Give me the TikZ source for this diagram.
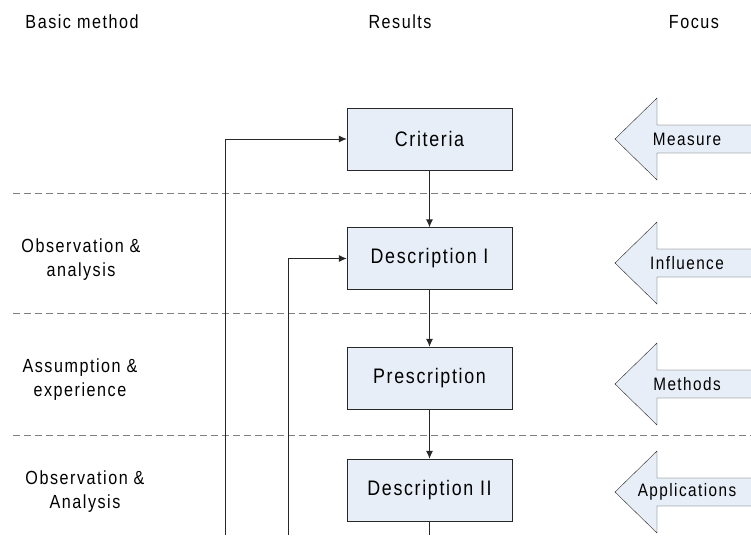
\documentclass[tikz,border=0pt]{standalone}
\usepackage{fontspec}
\setmainfont{Liberation Sans}[FakeStretch=0.85, LetterSpace=8]
\usepackage{tikz}
\usetikzlibrary{arrows.meta}
\definecolor{boxblue}{RGB}{231,238,247}
\definecolor{linegray}{RGB}{40,40,40}
\definecolor{dashgray}{RGB}{128,128,128}
% block arrow pointing left, its tail runs off the page
\NewDocumentCommand{\focusarrow}{m m m}{%
\draw[fat] (761,#2-14) -- (657,#2-14) -- (657,#2-41) -- (615,#2) -- (657,#2+41) -- (657,#2+14) -- (761,#2+14) -- cycle;
\node[info] (#1) at (687,#2) {#3};
}

\begin{document}
\begin{tikzpicture}[x=1pt, y=-1pt, result/.style={rectangle, draw=linegray, fill=boxblue, minimum width=165pt, minimum height=62pt, font=\fontsize{21}{24}\selectfont}, side/.style={align=center, font=\fontsize{19}{24}\selectfont}, head/.style={font=\fontsize{19}{22}\selectfont}, info/.style={font=\fontsize{18}{20}\selectfont}, fat/.style={draw=linegray, fill=boxblue}, n/.style={-{Latex[length=8pt, width=7pt]}, draw=linegray, line width=1pt}, sep/.style={dashgray, dashed, dash pattern=on 7pt off 4pt, line width=0.9pt}]
        \useasboundingbox (0,0) rectangle (751,535);
        % headings
        \node[head] (method) at (82,22) {Basic method};
        \node[head] (results) at (400,22) {Results};
        \node[head] (focus) at (694,22) {Focus};
        % separators
        \draw[sep] (13,193) -- (751,193);
        \draw[sep] (13,313) -- (751,313);
        \draw[sep] (13,435) -- (751,435);
        % basic methods
        \node[side] (obs1) at (81,260) {Observation \&\\analysis};
        \node[side] (assume) at (80,380) {Assumption \&\\experience};
        \node[side] (obs2) at (85,492) {Observation \&\\Analysis};
        % results
        \node[result] (criteria) at (429.5,139) {Criteria};
        \node[result] (desc1) at (429.5,258.5) {Description I};
        \node[result] (prescr) at (429.5,378) {Prescription};
        \node[result] (desc2) at (429.5,490) {Description II};
        % focus
        \focusarrow{measure}{139}{Measure}
        \focusarrow{influence}{263}{Influence}
        \focusarrow{methods}{384}{Methods}
        \focusarrow{applications}{492}{Applications}
        % loose ends
        \coordinate (feedA) at (225,535);
        \coordinate (feedB) at (288,535);
        \coordinate (down) at (429.5,535);
        % edges
        \draw [n] (criteria) -- (desc1);
        \draw [n] (desc1) -- (prescr);
        \draw [n] (prescr) -- (desc2);
        \draw [draw=linegray, line width=1pt] (desc2) -- (down);
        \draw [n] (feedA) |- (criteria);
        \draw [n] (feedB) |- (desc1);
    \end{tikzpicture}
\end{document}
